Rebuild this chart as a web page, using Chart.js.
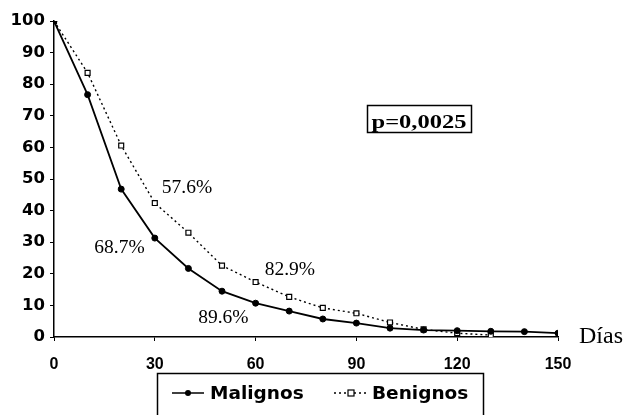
<!DOCTYPE html>
<html lang="es">
<head>
<meta charset="UTF-8">
<title>Malignos vs Benignos</title>
<script src="https://cdn.jsdelivr.net/npm/chart.js@4.4.1/dist/chart.umd.min.js"></script>
<style>
  html, body { margin: 0; padding: 0; background: #fff; }
  #wrap { width: 628px; height: 415px; }
</style>
</head>
<body>
<div id="wrap"><canvas id="chart" width="628" height="415"></canvas></div>
<script>
// Data (days vs %)
const malignosDays = [0, 10, 20, 30, 40, 50, 60, 70, 80, 90, 100, 110, 120, 130, 140, 150];
const malignosVals = [100, 76.7, 46.8, 31.3, 21.7, 14.5, 10.7, 8.2, 5.7, 4.4, 2.8, 2.2, 2.0, 1.8, 1.7, 1.2];
const benignosDays = [0, 10, 20, 30, 40, 50, 60, 70, 80, 90, 100, 110, 120, 130];
const benignosVals = [100, 83.6, 60.6, 42.4, 33.0, 22.6, 17.4, 12.7, 9.2, 7.5, 4.6, 2.4, 1.2, 0.6];
const xTicks = [0, 30, 60, 90, 120, 150];
const yTicks = [0, 10, 20, 30, 40, 50, 60, 70, 80, 90, 100];

// Percentage labels placed at (day, value)
const notes = [
  { text: '57.6%', x: 39.6, y: 47.3 },
  { text: '68.7%', x: 19.5, y: 28.1 },
  { text: '82.9%', x: 70.2, y: 21.1 },
  { text: '89.6%', x: 50.4, y: 6.0 }
];

const serif = '"Liberation Serif", "Times New Roman", serif';
const sans = '"Liberation Sans", Arial, sans-serif';
const wide = '"DejaVu Sans", Verdana, sans-serif';

// Extra drawing: notes, p-value box, axis title, legend box
const extras = {
  id: 'extras',
  afterDraw(chart) {
    const c = chart.ctx;
    const xs = chart.scales.x, ys = chart.scales.y;
    c.save();
    c.fillStyle = '#000';
    c.font = '19.5px ' + serif;
    c.textAlign = 'center';
    c.textBaseline = 'middle';
    notes.forEach(n => c.fillText(n.text, xs.getPixelForValue(n.x), ys.getPixelForValue(n.y)));

    // p value box (text is stretched wide in the original)
    c.lineWidth = 1.5;
    c.strokeStyle = '#000';
    c.strokeRect(367.5, 105.5, 104, 27);
    c.font = 'bold 18px ' + serif;
    c.textBaseline = 'alphabetic';
    const pw = c.measureText('p=0,0025').width;
    c.save();
    c.translate(419, 128);
    c.scale(95 / pw, 1);
    c.fillText('p=0,0025', 0, 0);
    c.restore();

    // axis title
    c.font = '24px ' + serif;
    c.textAlign = 'left';
    c.textBaseline = 'middle';
    c.fillText('Días', 579, ys.getPixelForValue(0));

    // legend
    c.lineWidth = 1.5;
    c.strokeRect(157.5, 373.5, 326, 60);
    const ly = 393;
    const ds = chart.data.datasets;
    // Malignos sample
    c.setLineDash([]);
    c.beginPath(); c.moveTo(172, ly); c.lineTo(204, ly); c.stroke();
    c.beginPath(); c.arc(188, ly, 3, 0, Math.PI * 2); c.fill();
    // Benignos sample
    c.setLineDash([2, 3]);
    c.beginPath(); c.moveTo(334, ly); c.lineTo(368, ly); c.stroke();
    c.setLineDash([]);
    c.fillStyle = '#fff';
    c.fillRect(348, ly - 3, 6, 6);
    c.lineWidth = 1.2;
    c.strokeRect(348, ly - 3, 6, 6);
    c.fillStyle = '#000';
    c.font = 'bold 18.5px ' + wide;
    c.textAlign = 'left';
    c.fillText(ds[0].label, 210, ly + 1);
    c.fillText(ds[1].label, 372, ly + 1);
    c.restore();
  }
};

new Chart(document.getElementById('chart'), {
  type: 'line',
  data: {
    datasets: [
      {
        label: 'Malignos',
        data: malignosDays.map((d, i) => ({ x: d, y: malignosVals[i] })),
        borderColor: '#000',
        backgroundColor: '#000',
        borderWidth: 1.8,
        pointStyle: 'circle',
        pointRadius: 3,
        pointBorderWidth: 1,
        tension: 0
      },
      {
        label: 'Benignos',
        data: benignosDays.map((d, i) => ({ x: d, y: benignosVals[i] })),
        borderColor: '#000',
        backgroundColor: '#fff',
        borderWidth: 1.4,
        borderDash: [2, 3],
        pointStyle: 'rect',
        pointRadius: 3.5,
        pointBorderWidth: 1.2,
        tension: 0
      }
    ]
  },
  options: {
    responsive: false,
    animation: false,
    layout: { padding: { top: 21, right: 70, left: 0, bottom: 0 } },
    plugins: { legend: { display: false }, tooltip: { enabled: false } },
    scales: {
      x: {
        type: 'linear',
        min: 0,
        max: 150,
        afterBuildTicks: s => { s.ticks = xTicks.map(v => ({ value: v })); },
        afterFit: s => { s.height = 78; },
        ticks: { color: '#000', padding: 14, font: { family: sans, size: 16, weight: 'bold' } },
        grid: { drawOnChartArea: false, drawTicks: true, tickLength: 4, color: '#000' },
        border: { display: true, color: '#000', width: 1.5 }
      },
      y: {
        min: 0,
        max: 100,
        afterBuildTicks: s => { s.ticks = yTicks.map(v => ({ value: v })); },
        afterFit: s => { s.width = 54; },
        ticks: { color: '#000', padding: 5, font: { family: wide, size: 16.5, weight: 'bold' } },
        grid: { drawOnChartArea: false, drawTicks: true, tickLength: 4, color: '#000' },
        border: { display: true, color: '#000', width: 1.5 }
      }
    }
  },
  plugins: [extras]
});
</script>
</body>
</html>
